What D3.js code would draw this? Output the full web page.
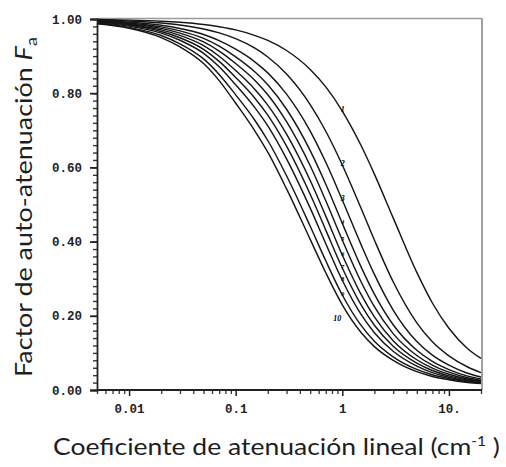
<!DOCTYPE html>
<html>
<head>
<meta charset="utf-8">
<script src="https://cdn.jsdelivr.net/npm/d3@7"></script>
<style>
  html, body { margin: 0; padding: 0; background: #fff; }
  svg { display: block; }
</style>
</head>
<body>
<script>
// Linear attenuation coefficient (cm^-1), shared by every curve
const mu = [0.005, 0.01, 0.02, 0.03, 0.05, 0.07, 0.1, 0.15, 0.2, 0.3, 0.5, 0.7, 1, 1.5, 2, 3, 5, 7, 10, 15, 20];

// Self-attenuation factor Fa for each curve (1 … 10)
const fa1  = [0.9985, 0.997, 0.994, 0.991, 0.985, 0.979, 0.9706, 0.956, 0.9423, 0.9151, 0.864, 0.817, 0.752, 0.659, 0.582, 0.464, 0.317, 0.2345, 0.1663, 0.1111, 0.0850];
const fa2  = [0.9973, 0.9945, 0.9891, 0.9837, 0.973, 0.9625, 0.947, 0.922, 0.8976, 0.8518, 0.7693, 0.6974, 0.6065, 0.4897, 0.4042, 0.2918, 0.1811, 0.1298, 0.0920, 0.0620, 0.0470];
const fa3  = [0.9962, 0.9915, 0.9831, 0.9745, 0.9583, 0.9417, 0.9185, 0.8853, 0.8548, 0.7976, 0.6979, 0.6137, 0.5121, 0.3918, 0.3115, 0.2156, 0.1306, 0.0940, 0.0670, 0.0450, 0.0350];
const fa4  = [0.9946, 0.9893, 0.9787, 0.9679, 0.9476, 0.9268, 0.8979, 0.8584, 0.8229, 0.7567, 0.6452, 0.5546, 0.4492, 0.332, 0.2585, 0.1758, 0.1070, 0.0770, 0.0550, 0.0375, 0.0300];
const fa5  = [0.9936, 0.9873, 0.9748, 0.962, 0.9382, 0.9136, 0.88, 0.8355, 0.7959, 0.7232, 0.6043, 0.5101, 0.4042, 0.2918, 0.2245, 0.1520, 0.0930, 0.0670, 0.0480, 0.0330, 0.0265];
const fa6  = [0.9926, 0.9853, 0.9706, 0.9557, 0.9281, 0.8997, 0.861, 0.8115, 0.768, 0.6896, 0.5646, 0.4686, 0.3638, 0.2576, 0.1970, 0.1330, 0.0815, 0.0590, 0.0425, 0.0295, 0.0240];
const fa7  = [0.9916, 0.9831, 0.9664, 0.9495, 0.9182, 0.8858, 0.8425, 0.7878, 0.7407, 0.6571, 0.5275, 0.431, 0.3287, 0.2292, 0.1745, 0.1180, 0.0725, 0.0525, 0.0380, 0.0268, 0.0220];
const fa8  = [0.9903, 0.9808, 0.962, 0.9427, 0.9074, 0.8711, 0.8226, 0.7625, 0.712, 0.6232, 0.4903, 0.3944, 0.2958, 0.2036, 0.1545, 0.1045, 0.0645, 0.0470, 0.0345, 0.0245, 0.0203];
const fa9  = [0.9887, 0.9775, 0.9556, 0.9332, 0.8925, 0.8506, 0.7956, 0.7284, 0.6725, 0.5774, 0.4415, 0.3482, 0.256, 0.174, 0.1315, 0.0895, 0.0555, 0.0410, 0.0305, 0.0220, 0.0188];
const fa10 = [0.987, 0.975, 0.950, 0.925, 0.880, 0.834, 0.773, 0.700, 0.641, 0.542, 0.406, 0.3159, 0.2294, 0.1548, 0.1170, 0.0800, 0.0495, 0.0365, 0.0275, 0.0200, 0.0175];

const curveNames = ["1", "2", "3", "4", "5", "6", "7", "8", "9", "10"];
const curveValues = [fa1, fa2, fa3, fa4, fa5, fa6, fa7, fa8, fa9, fa10];

// Axis ticks
const xTickValues = [0.01, 0.1, 1, 10];
const xTickLabels = ["0.01", "0.1", "1", "10."];
const yTickValues = [0, 0.2, 0.4, 0.6, 0.8, 1.0];
const yTickLabels = ["0.00", "0.20", "0.40", "0.60", "0.80", "1.00"];

const W = 506, H = 467;
const svg = d3.select("body").append("svg").attr("width", W).attr("height", H);
svg.append("rect").attr("width", W).attr("height", H).attr("fill", "#fff");

const x = d3.scaleLog().domain([0.005, 20]).range([97, 481]);
const y = d3.scaleLinear().domain([0, 1]).range([390, 19]);

// Frame: grey top and right edges
svg.append("line").attr("x1", 97).attr("x2", 482).attr("y1", 18.5).attr("y2", 18.5)
  .attr("stroke", "#9a9a9a").attr("stroke-width", 1.6);
svg.append("line").attr("x1", 482).attr("x2", 482).attr("y1", 18.5).attr("y2", 390)
  .attr("stroke", "#8a8a8a").attr("stroke-width", 1.6);

// Curves
const line = d3.line()
  .x(d => x(d[0]))
  .y(d => y(d[1]))
  .curve(d3.curveMonotoneX);

const g = svg.append("g");
curveValues.forEach((vals, i) => {
  g.append("path")
    .datum(mu.map((m, j) => [m, vals[j]]))
    .attr("d", line)
    .attr("fill", "none")
    .attr("stroke", "#161616")
    .attr("stroke-width", 1.45);
});

// Curve numbers, placed on each curve at mu = 1
const at1 = mu.indexOf(1);
curveValues.forEach((vals, i) => {
  const name = curveNames[i];
  const big = (i < 3 || i === 9);
  const px = x(1) + (i === 9 ? -5 : 0.5);
  const py = y(vals[at1]) + (i === 9 ? 16 : 1);
  svg.append("text")
    .attr("x", px).attr("y", py)
    .attr("text-anchor", "middle")
    .attr("font-family", "Liberation Serif, serif")
    .attr("font-style", "italic")
    .attr("font-weight", "bold")
    .attr("font-size", big ? 8 : 6)
    .attr("fill", "#000")
    .text(name);
});

const tickFont = "Liberation Mono, DejaVu Sans Mono, monospace";

// Y axis: minor ticks every 0.02, labelled majors every 0.2
const yMinor = d3.range(0, 1.0001, 0.02);
svg.append("g").attr("transform", "translate(97,0)")
  .call(d3.axisLeft(y).tickValues(yMinor).tickSize(4).tickFormat(""))
  .call(a => a.select(".domain").remove())
  .call(a => a.selectAll("line").attr("stroke", "#333").attr("stroke-width", 1.4));

const yAxis = svg.append("g").attr("transform", "translate(97,0)")
  .call(d3.axisLeft(y).tickValues(yTickValues).tickSize(7).tickPadding(8)
    .tickFormat((d, i) => yTickLabels[i]));
yAxis.select(".domain").attr("stroke", "#222").attr("stroke-width", 1.8);
yAxis.selectAll("line").attr("stroke", "#222").attr("stroke-width", 1.8);
yAxis.selectAll("text")
  .attr("font-family", tickFont).attr("font-weight", "bold")
  .attr("font-size", 12.5).attr("fill", "#222");

// X axis: minor ticks at 2..9 of each decade
const xMinor = [];
[0.001, 0.01, 0.1, 1, 10].forEach(dec => {
  for (let k = 2; k <= 9; k++) {
    const v = +(dec * k).toPrecision(3);
    if (v >= 0.005 && v <= 20) xMinor.push(v);
  }
});
svg.append("g").attr("transform", "translate(0,390)")
  .call(d3.axisBottom(x).tickValues(xMinor).tickSize(4).tickFormat(""))
  .call(a => a.select(".domain").remove())
  .call(a => a.selectAll("line").attr("stroke", "#333").attr("stroke-width", 1.3));

const xAxis = svg.append("g").attr("transform", "translate(0,390)")
  .call(d3.axisBottom(x).tickValues(xTickValues).tickSize(6).tickPadding(8)
    .tickFormat((d, i) => xTickLabels[i]));
xAxis.select(".domain").attr("d", "M97,0H482").attr("stroke", "#222").attr("stroke-width", 1.8);
xAxis.selectAll("line").attr("stroke", "#222").attr("stroke-width", 1.5);
xAxis.selectAll("text")
  .attr("font-family", tickFont).attr("font-weight", "bold")
  .attr("font-size", 12.5).attr("fill", "#222");

// Axis titles
const titleFont = "Lato, 'Open Sans', sans-serif";

const xt = svg.append("text")
  .attr("x", 0).attr("y", 0)
  .attr("font-family", titleFont).attr("font-size", 24).attr("fill", "#1e1e1e");
xt.append("tspan").text("Coeficiente de atenuación lineal (cm");
xt.append("tspan").attr("dy", -9).attr("font-size", 14).text("-1");
xt.append("tspan").attr("dy", 9).text(" )");
{
  const bb = xt.node().getBBox();
  const sx = 447 / bb.width;
  xt.attr("transform", `translate(${53 - bb.x * sx},455) scale(${sx},1)`);
}

const yt = svg.append("text")
  .attr("x", 0).attr("y", 0)
  .attr("font-family", titleFont).attr("font-size", 24).attr("fill", "#1e1e1e");
yt.append("tspan").text("Factor de auto-atenuación ");
yt.append("tspan").attr("font-style", "italic").text("F");
yt.append("tspan").attr("dy", 5).attr("font-size", 16).text("a");
{
  const bb = yt.node().getBBox();
  const sx = 340 / bb.width;
  yt.attr("transform", `translate(32,${377 + bb.x * sx}) rotate(-90) scale(${sx},1)`);
}
</script>
</body>
</html>
